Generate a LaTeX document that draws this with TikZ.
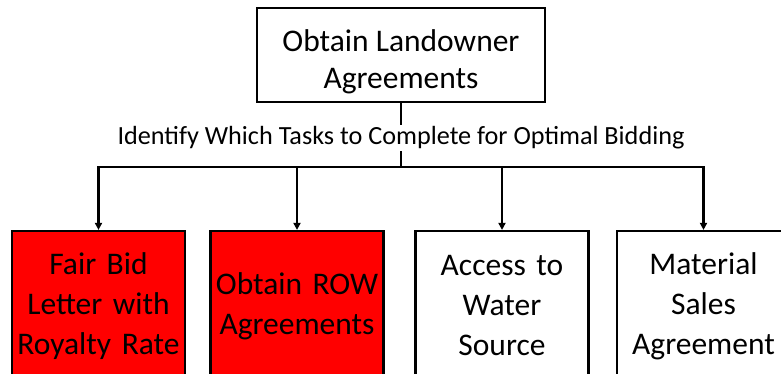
\documentclass[tikz,border=0pt]{standalone}
\usepackage{fontspec}
\setmainfont{Carlito}
\usetikzlibrary{arrows.meta}
\begin{document}
\begin{tikzpicture}[x=1pt,y=-1pt,
  box/.style={draw=black, line width=2.2pt, align=center, inner sep=0pt},
  task/.style={box, minimum width=173pt, minimum height=150pt, text width=170pt,
    font=\fontsize{31.5}{40}\selectfont},
  hot/.style={fill=red},
  wire/.style={line width=2.2pt},
  link/.style={wire, -{Triangle[length=7pt,width=7pt]}}]
\useasboundingbox (0,0) rectangle (781,374);
\clip (0,0) rectangle (781,374);
% goal box
\node[box, minimum width=288pt, minimum height=94pt,
  font=\fontsize{31.5}{37}\selectfont] (top) at (401,55)
  {\raisebox{-8pt}[\height][\depth]{\begin{tabular}{@{}c@{}}Obtain Landowner\\Agreements\end{tabular}}};
% task boxes (cut off along the lower and right edges)
\node[task, hot] (t1) at (98.5,306) {Fair Bid\\Letter with\\Royalty Rate};
\node[task, hot] (t2) at (297,306) {Obtain ROW\\Agreements};
\node[task] (t3) at (502,306) {Access to\\Water\\Source};
\node[task] (t4) at (703.5,306) {Material\\Sales\\Agreement};
% connectors
\coordinate (bus) at (401,167);
\draw[wire] (top.south) -- (bus);
\draw[link] (bus) -| (t1.north);
\draw[link] (bus) -| (t2.north);
\draw[link] (bus) -| (t3.north);
\draw[link] (bus) -| (t4.north);
\node[fill=white, inner sep=2pt, font=\fontsize{26.2}{30}\selectfont] (lbl) at (401,138)
  {Identify Which Tasks to Complete for Optimal Bidding};
\end{tikzpicture}
\end{document}
